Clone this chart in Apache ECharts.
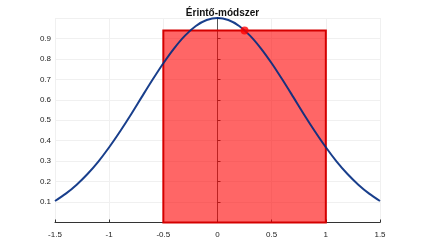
<!DOCTYPE html>
<html><head><meta charset="utf-8">
<script src="https://cdn.jsdelivr.net/npm/echarts@6/dist/echarts.min.js"></script>
<style>html,body{margin:0;padding:0;background:#fff}#c{width:421px;height:250px}</style>
</head><body><div id="c"></div>
<script>
var titleText = 'Érintő-módszer';
var curveX = [-1.5,-1.4,-1.3,-1.2,-1.1,-1.0,-0.9,-0.8,-0.7,-0.6,-0.5,-0.4,-0.3,-0.2,-0.1,0,0.1,0.2,0.3,0.4,0.5,0.6,0.7,0.8,0.9,1.0,1.1,1.2,1.3,1.4,1.5];
var curveY = [0.105,0.141,0.185,0.237,0.298,0.368,0.445,0.527,0.613,0.698,0.779,0.852,0.914,0.961,0.990,1.0,0.990,0.961,0.914,0.852,0.779,0.698,0.613,0.527,0.445,0.368,0.298,0.237,0.185,0.141,0.105];
var rectX = [-0.5, 1.0];
var rectHeight = [0.939];
var pointX = [0.25];
var pointY = [0.939];
var xTicks = [-1.5,-1,-0.5,0,0.5,1,1.5];
var yTicks = [0.1,0.2,0.3,0.4,0.5,0.6,0.7,0.8,0.9];

var chart = echarts.init(document.getElementById('c'), null, {renderer:'canvas'});
var labelFont = {fontFamily:'Liberation Sans, Arial, sans-serif', fontSize:8, color:'#222'};
chart.setOption({
  animation:false,
  title:{text:titleText, left:217.5, textAlign:'center', top:3,
    textStyle:{fontFamily:'Liberation Sans, Arial, sans-serif', fontSize:10, fontWeight:'bold', color:'#111'}},
  grid:{left:55, right:41, top:18, bottom:27.5, containLabel:false},
  xAxis:{type:'value', min:-1.5, max:1.5, interval:0.5,
    axisLine:{onZero:false, lineStyle:{color:'#333', width:1}},
    axisTick:{inside:true, length:3, lineStyle:{color:'#333'}},
    axisLabel:Object.assign({margin:8, formatter:function(v){return xTicks.indexOf(+v.toFixed(2))>=0? String(+v.toFixed(2)):'';}}, labelFont),
    splitLine:{show:true, lineStyle:{color:'#f0f0f0', type:'solid', width:1}}
  },
  yAxis:{type:'value', min:0, max:1, interval:0.1,
    axisLine:{onZero:true, lineStyle:{color:'#555', width:1}},
    axisTick:{inside:true, length:3, lineStyle:{color:'#444'}},
    axisLabel:Object.assign({margin:4, formatter:function(v){var r=+v.toFixed(2);return yTicks.indexOf(r)>=0? String(r):'';}}, labelFont),
    splitLine:{show:true, lineStyle:{color:'#f0f0f0', type:'solid', width:1}}
  },
  series:[
    {type:'custom', z:2, data:[[rectX[0], rectX[1], rectHeight[0]]],
      renderItem:function(params, api){
        var p0 = api.coord([api.value(0), api.value(2)]);
        var p1 = api.coord([api.value(1), 0]);
        return {type:'rect', shape:{x:p0[0], y:p0[1], width:p1[0]-p0[0], height:p1[1]-p0[1]},
          style:{fill:'rgba(255,0,0,0.6)', stroke:'#d40000', lineWidth:2}};
      }},
    {type:'line', z:3, data:curveX.map(function(x,i){return [x,curveY[i]];}), smooth:0.3, showSymbol:false,
      lineStyle:{color:'#002a80', width:2, opacity:0.9}},
    {type:'scatter', z:5, data:pointX.map(function(x,i){return [x,pointY[i]];}), symbolSize:8,
      itemStyle:{color:'#ff0000'}}
  ]
});
</script></body></html>
